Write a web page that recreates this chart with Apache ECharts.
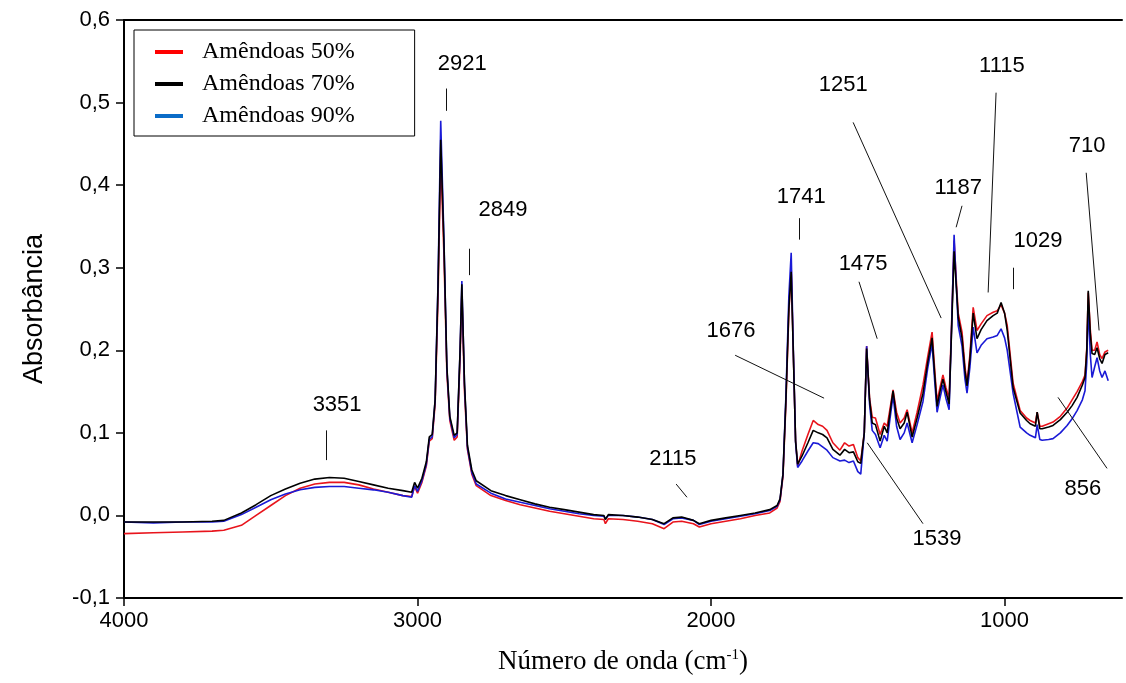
<!DOCTYPE html>
<html>
<head>
<meta charset="utf-8">
<title>FTIR Amêndoas</title>
<script src="https://cdn.jsdelivr.net/npm/echarts@6/dist/echarts.min.js"></script>
<style>
  html, body { margin: 0; padding: 0; background: #fff; }
  #chart { width: 1126px; height: 683px; }
</style>
</head>
<body>
<div id="chart"></div>
<script>
// numero de onda (cm-1)
var numeroOnda = [4000, 3900, 3800, 3700, 3660, 3600, 3550, 3500, 3450, 3400, 3350, 3300, 3250, 3200, 3150, 3100, 3050, 3020, 3010, 3000,
  2985, 2970, 2960, 2950, 2940, 2930, 2921, 2910, 2900, 2890, 2875, 2865, 2855, 2849, 2840, 2830, 2815, 2800, 2750, 2700,
  2650, 2600, 2550, 2500, 2450, 2400, 2365, 2360, 2350, 2300, 2250, 2200, 2160, 2130, 2100, 2060, 2040, 2000, 1950, 1900,
  1850, 1800, 1775, 1765, 1755, 1745, 1735, 1727, 1720, 1712, 1705, 1690, 1670, 1652, 1635, 1620, 1605, 1585, 1561, 1545,
  1530, 1515, 1500, 1490, 1478, 1470, 1460, 1451, 1440, 1424, 1410, 1400, 1390, 1380, 1368, 1356, 1342, 1332, 1315, 1298,
  1278, 1262, 1247, 1238, 1230, 1220, 1210, 1200, 1189, 1180, 1172, 1165, 1158, 1145, 1135, 1128, 1118, 1107, 1094, 1080,
  1060, 1039, 1025, 1012, 1000, 991, 971, 947, 925, 913, 895, 889, 880, 872, 850, 835, 810, 787, 770, 753,
  735, 726, 720, 715, 708, 702, 693, 685, 676, 668, 658, 647];

var amendoas50 = [-0.022, -0.021, -0.020, -0.019, -0.018, -0.012, 0.000, 0.012, 0.024, 0.033, 0.038, 0.040, 0.040, 0.037, 0.032, 0.028, 0.024, 0.023, 0.035, 0.027,
  0.040, 0.060, 0.090, 0.093, 0.135, 0.265, 0.435, 0.315, 0.172, 0.115, 0.091, 0.095, 0.190, 0.270, 0.150, 0.080, 0.050, 0.036, 0.024, 0.018,
  0.013, 0.009, 0.005, 0.002, -0.001, -0.004, -0.005, -0.010, -0.004, -0.005, -0.007, -0.010, -0.016, -0.008, -0.007, -0.010, -0.014, -0.010, -0.007, -0.004,
  0.000, 0.003, 0.009, 0.017, 0.047, 0.135, 0.245, 0.300, 0.200, 0.090, 0.060, 0.078, 0.098, 0.115, 0.110, 0.108, 0.103, 0.088, 0.079, 0.088,
  0.084, 0.086, 0.070, 0.066, 0.100, 0.205, 0.142, 0.119, 0.118, 0.098, 0.112, 0.108, 0.130, 0.152, 0.125, 0.112, 0.118, 0.128, 0.100, 0.125,
  0.158, 0.192, 0.222, 0.176, 0.138, 0.155, 0.170, 0.155, 0.142, 0.238, 0.333, 0.288, 0.245, 0.222, 0.180, 0.160, 0.195, 0.252, 0.224, 0.232,
  0.242, 0.246, 0.248, 0.255, 0.245, 0.230, 0.160, 0.127, 0.118, 0.115, 0.112, 0.125, 0.108, 0.108, 0.111, 0.113, 0.120, 0.130, 0.140, 0.150,
  0.162, 0.170, 0.202, 0.270, 0.225, 0.200, 0.200, 0.210, 0.195, 0.190, 0.198, 0.200];

var amendoas70 = [-0.008, -0.008, -0.008, -0.007, -0.006, 0.003, 0.013, 0.024, 0.032, 0.039, 0.044, 0.046, 0.045, 0.041, 0.037, 0.033, 0.030, 0.028, 0.040, 0.033,
  0.045, 0.065, 0.095, 0.098, 0.140, 0.280, 0.455, 0.330, 0.180, 0.120, 0.097, 0.100, 0.200, 0.280, 0.160, 0.085, 0.055, 0.042, 0.030, 0.024,
  0.019, 0.014, 0.010, 0.007, 0.004, 0.001, 0.000, -0.005, 0.001, 0.000, -0.002, -0.005, -0.010, -0.003, -0.002, -0.006, -0.010, -0.006, -0.003, 0.000,
  0.003, 0.007, 0.012, 0.020, 0.050, 0.140, 0.250, 0.295, 0.200, 0.090, 0.062, 0.072, 0.088, 0.103, 0.100, 0.098, 0.094, 0.080, 0.073, 0.080,
  0.076, 0.077, 0.065, 0.063, 0.100, 0.202, 0.140, 0.112, 0.110, 0.090, 0.108, 0.100, 0.125, 0.151, 0.118, 0.105, 0.112, 0.125, 0.095, 0.118,
  0.148, 0.185, 0.215, 0.170, 0.132, 0.150, 0.165, 0.150, 0.135, 0.230, 0.320, 0.280, 0.240, 0.215, 0.175, 0.157, 0.190, 0.245, 0.214, 0.225,
  0.236, 0.242, 0.245, 0.258, 0.245, 0.224, 0.155, 0.124, 0.115, 0.111, 0.108, 0.125, 0.105, 0.105, 0.107, 0.109, 0.116, 0.125, 0.133, 0.143,
  0.158, 0.167, 0.200, 0.272, 0.220, 0.196, 0.195, 0.203, 0.190, 0.184, 0.195, 0.197];

var amendoas90 = [-0.008, -0.009, -0.008, -0.008, -0.007, 0.001, 0.010, 0.019, 0.026, 0.031, 0.034, 0.035, 0.035, 0.033, 0.031, 0.028, 0.024, 0.022, 0.036, 0.029,
  0.042, 0.062, 0.092, 0.095, 0.140, 0.285, 0.478, 0.335, 0.178, 0.118, 0.094, 0.098, 0.200, 0.284, 0.158, 0.082, 0.052, 0.038, 0.027, 0.020,
  0.016, 0.012, 0.008, 0.005, 0.002, 0.000, -0.001, -0.004, 0.000, 0.000, -0.002, -0.005, -0.011, -0.004, -0.003, -0.006, -0.011, -0.007, -0.004, -0.001,
  0.002, 0.006, 0.011, 0.019, 0.050, 0.145, 0.265, 0.318, 0.205, 0.088, 0.058, 0.066, 0.078, 0.088, 0.087, 0.083, 0.079, 0.070, 0.066, 0.067,
  0.064, 0.066, 0.053, 0.050, 0.100, 0.205, 0.135, 0.103, 0.098, 0.082, 0.097, 0.090, 0.118, 0.145, 0.108, 0.092, 0.100, 0.112, 0.088, 0.110,
  0.138, 0.178, 0.208, 0.162, 0.125, 0.142, 0.158, 0.142, 0.128, 0.235, 0.340, 0.282, 0.230, 0.205, 0.165, 0.148, 0.180, 0.228, 0.197, 0.206,
  0.214, 0.216, 0.218, 0.226, 0.215, 0.200, 0.148, 0.107, 0.100, 0.097, 0.094, 0.110, 0.092, 0.091, 0.092, 0.093, 0.100, 0.109, 0.117, 0.127,
  0.140, 0.151, 0.185, 0.255, 0.195, 0.167, 0.180, 0.191, 0.175, 0.167, 0.175, 0.163];

var nomes = ['Amêndoas 50%', 'Amêndoas 70%', 'Amêndoas 90%'];
var cores = ['#e8141c', '#000000', '#1a1ad6'];
var coresLegenda = ['#ff0000', '#000000', '#0a6cc8'];

// rotulos dos picos: [texto, x do texto, y do texto]
var rotulos = [
  ['3351', 3274, 0.134], ['2921', 2848, 0.547], ['2849', 2709, 0.370], ['2115', 2130, 0.068],
  ['1676', 1932, 0.223], ['1741', 1693, 0.386], ['1475', 1482, 0.305], ['1539', 1230, -0.029],
  ['1251', 1550, 0.521], ['1187', 1158, 0.397], ['1115', 1009, 0.544], ['1029', 886, 0.332],
  ['710', 719, 0.447], ['856', 733, 0.032]
];
// linhas de chamada: [x1, y1, x2, y2]
var chamadas = [
  [3312, 0.103, 3312, 0.067], [2903, 0.517, 2903, 0.490], [2825, 0.323, 2825, 0.291],
  [2119, 0.038, 2082, 0.022], [1918, 0.194, 1615, 0.142], [1700, 0.360, 1700, 0.334],
  [1496, 0.283, 1434, 0.214], [1468, 0.088, 1278, -0.010], [1516, 0.476, 1216, 0.239],
  [1145, 0.375, 1165, 0.349], [1029, 0.512, 1056, 0.270], [971, 0.300, 971, 0.274],
  [722, 0.415, 678, 0.224], [818, 0.143, 651, 0.057]
];
var marcasX = [1000, 2000, 3000, 4000];

var chart = echarts.init(document.getElementById('chart'));

var series = nomes.map(function (nome, i) {
  var ys = [amendoas50, amendoas70, amendoas90][i];
  return {
    name: nome,
    type: 'line',
    showSymbol: false,
    symbol: 'none',
    z: [2, 4, 3][i],
    lineStyle: { color: cores[i], width: 1.6 },
    itemStyle: { color: cores[i] },
    data: numeroOnda.map(function (x, j) { return [x, ys[j]]; })
  };
});

series.push({
  type: 'lines',
  coordinateSystem: 'cartesian2d',
  silent: true,
  z: 5,
  lineStyle: { color: '#111', width: 1, opacity: 1 },
  data: chamadas.map(function (c) { return { coords: [[c[0], c[1]], [c[2], c[3]]] }; })
});

series.push({
  type: 'scatter',
  silent: true,
  symbolSize: 0,
  z: 6,
  itemStyle: { color: '#000', opacity: 1 },
  label: {
    show: true,
    position: 'inside',
    formatter: function (p) { return p.value[2]; },
    fontFamily: 'Liberation Sans, Arial, sans-serif',
    fontSize: 22,
    color: '#000',
    opacity: 1
  },
  data: rotulos.map(function (r) { return [r[1], r[2], r[0]]; })
});

var option = {
  backgroundColor: '#fff',
  animation: false,
  grid: { left: 124, right: 4, top: 20, bottom: 85 },
  legend: {
    left: 134,
    top: 30,
    orient: 'vertical',
    backgroundColor: '#fff',
    borderColor: '#000',
    borderWidth: 1,
    padding: [10, 60, 8, 21],
    itemGap: 8,
    itemWidth: 28,
    itemHeight: 4,
    icon: 'rect',
    textStyle: { fontFamily: 'Liberation Serif, Times New Roman, serif', fontSize: 24, color: '#000', padding: [0, 0, 0, 14] },
    data: nomes.map(function (n, i) { return { name: n, itemStyle: { color: coresLegenda[i] } }; })
  },
  xAxis: [{
    type: 'value',
    inverse: true,
    min: 600,
    max: 4000,
    position: 'bottom',
    axisLine: { onZero: false, lineStyle: { color: '#000', width: 2 } },
    axisTick: { show: true, inside: false, length: 8, customValues: marcasX, lineStyle: { color: '#000', width: 1.5 } },
    axisLabel: {
      customValues: marcasX,
      margin: 12,
      fontFamily: 'Liberation Sans, Arial, sans-serif',
      fontSize: 22,
      color: '#000',
      formatter: function (v) { return String(v); }
    },
    splitLine: { show: false },
    name: '{a|Número de onda (cm}{s|-1}{a|)}',
    nameLocation: 'middle',
    nameGap: 50,
    nameTextStyle: {
      rich: {
        a: { fontFamily: 'Liberation Serif, Times New Roman, serif', fontSize: 27, color: '#000' },
        s: { fontFamily: 'Liberation Serif, Times New Roman, serif', fontSize: 15, color: '#000', verticalAlign: 'top', padding: [0, 0, 12, 0] }
      }
    }
  }, {
    type: 'value',
    inverse: true,
    min: 600,
    max: 4000,
    position: 'top',
    axisLine: { show: true, onZero: false, lineStyle: { color: '#000', width: 2 } },
    axisTick: { show: false },
    axisLabel: { show: false },
    splitLine: { show: false }
  }],
  yAxis: {
    type: 'value',
    min: -0.1,
    max: 0.6,
    interval: 0.1,
    axisLine: { show: true, onZero: false, lineStyle: { color: '#000', width: 2 } },
    axisTick: { show: true, inside: false, length: 8, lineStyle: { color: '#000', width: 1.5 } },
    axisLabel: {
      margin: 14,
      fontFamily: 'Liberation Sans, Arial, sans-serif',
      fontSize: 22,
      color: '#000',
      formatter: function (v) { return v.toFixed(1).replace('.', ','); }
    },
    splitLine: { show: false },
    name: 'Absorbância',
    nameLocation: 'middle',
    nameGap: 76,
    nameTextStyle: { fontFamily: 'Liberation Sans, Arial, sans-serif', fontSize: 27, color: '#000' }
  },
  series: series
};

chart.setOption(option);
</script>
</body>
</html>
